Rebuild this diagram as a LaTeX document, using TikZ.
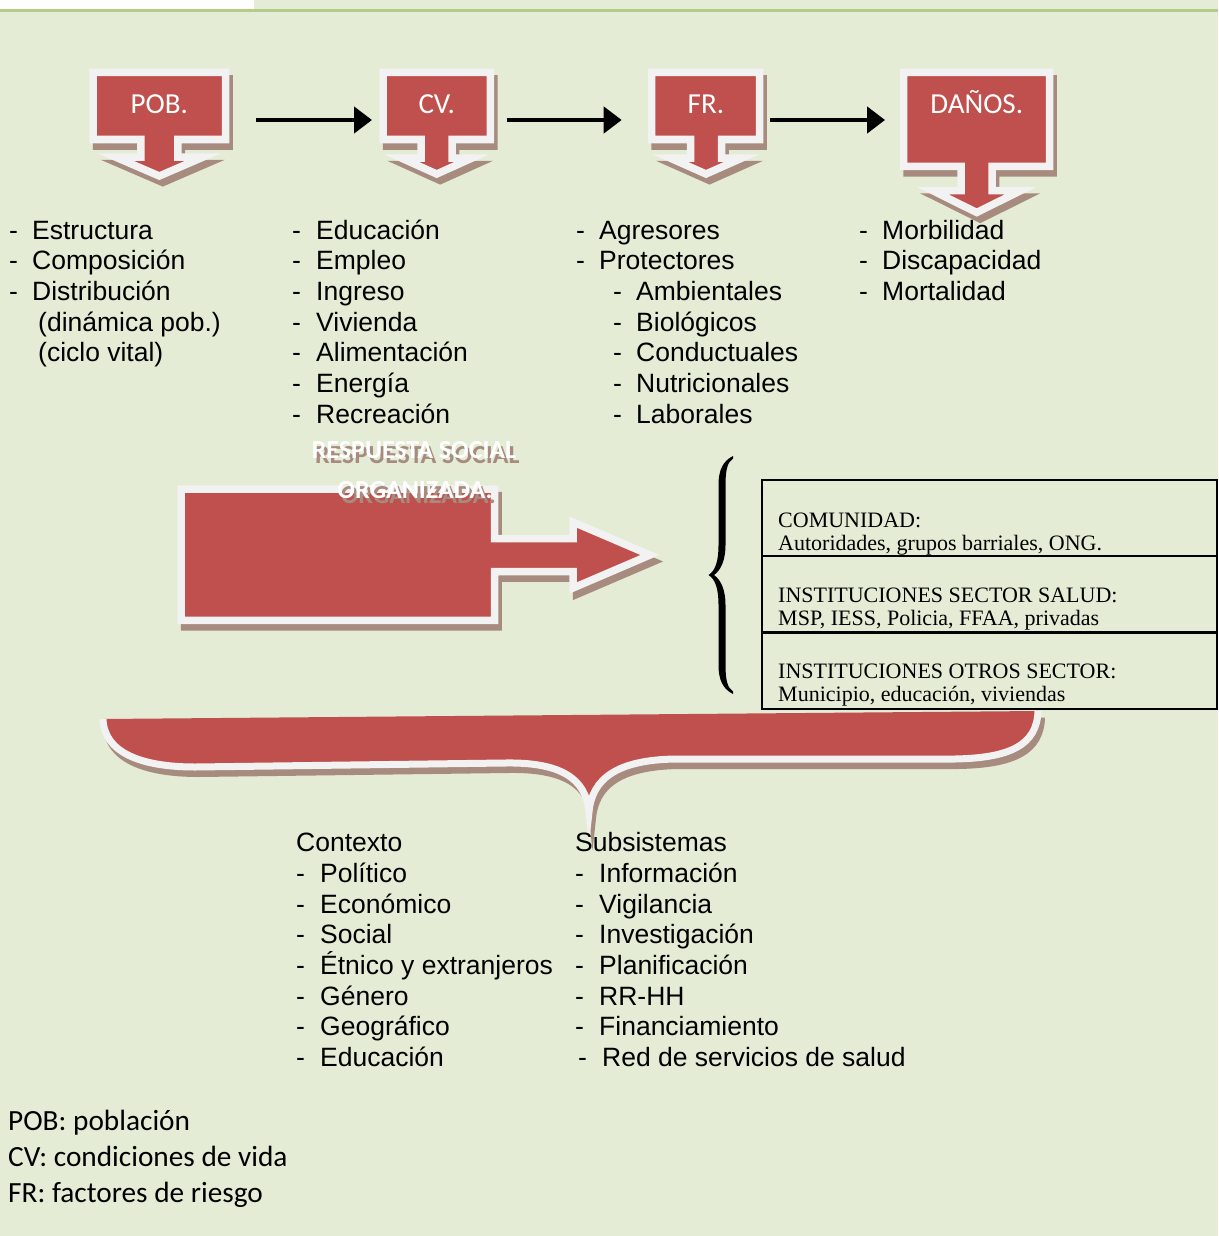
\documentclass[tikz,border=0pt]{standalone}
\usepackage{fontspec}
\setmainfont{Liberation Sans}
\newfontfamily\calibfont{Carlito}
\newfontfamily\seriffont{Liberation Serif}
\usetikzlibrary{arrows.meta,calc}

\definecolor{pagebg}{HTML}{E4ECD5}
\definecolor{rulegreen}{HTML}{B5CC88}
\definecolor{shapered}{HTML}{C0504D}
\definecolor{rimwhite}{HTML}{F2F2F2}
\definecolor{shadowbrown}{HTML}{A68B7E}

% outline of a down-arrow callout:
% left, right, top, bottom, centre x, stem half width, shoulder y, head half width, tip y
\newcommand\callpath[9]{(#1,#3) -- (#2,#3) -- (#2,#4) -- ({#5+#6},#4) -- ({#5+#6},#7) -- ({#5+#8},#7) -- (#5,#9) -- ({#5-#8},#7) -- ({#5-#6},#7) -- ({#5-#6},#4) -- (#1,#4) -- cycle}
\newcommand\callshape[9]{%
  \filldraw[shadowbrown, line width=7.5pt, shift={(3.5,6.5)}] \callpath{#1}{#2}{#3}{#4}{#5}{#6}{#7}{#8}{#9};
  \filldraw[fill=shapered, rim] \callpath{#1}{#2}{#3}{#4}{#5}{#6}{#7}{#8}{#9};
}
% white lettering with a brown drop shadow behind it
\newcommand\shadowed[1]{\rlap{\hspace{3.3pt}\raisebox{-5pt}{\color{shadowbrown}#1}}#1}

\begin{document}
\begin{tikzpicture}[x=1pt,y=-1pt,
  listtxt/.style={anchor=base west, inner sep=0pt, font=\fontsize{26.5}{30}\selectfont},
  celltxt/.style={anchor=base west, inner sep=0pt, font=\seriffont\fontsize{22}{23}\selectfont},
  legendtxt/.style={anchor=base west, inner sep=0pt, font=\calibfont\fontsize{29.3}{36}\selectfont},
  calltxt/.style={anchor=base, inner sep=0pt, text=white, font=\calibfont\fontsize{29}{34}\selectfont},
  banner/.style={anchor=base, inner sep=0pt, text=white, font=\calibfont\bfseries\fontsize{26}{30}\selectfont},
  conn/.style={line width=4.5pt, -{Triangle[length=18pt,width=26pt]}},
  cell/.style={draw=black, line width=2pt, minimum width=454.4pt, minimum height=76.3pt, inner sep=0pt},
  rim/.style={draw=rimwhite, line width=7.5pt},
  holder/.style={inner sep=0pt, outer sep=0pt},
]
% page
\fill[pagebg] (0,0) rectangle (1218,1236);
\useasboundingbox (0,0) rectangle (1218,1236);
\fill[white] (0,0) rectangle (254,9);
\fill[rulegreen] (0,9) rectangle (1218,12);

% callout shapes
\callshape{93}{225.5}{72.5}{139.5}{159.3}{18.5}{157}{44}{176}
\callshape{383}{490.3}{72.5}{139.5}{436.7}{15.5}{158}{35.5}{174}
\callshape{651.7}{759.7}{72.5}{139.5}{706}{15.5}{158}{36}{174}
\callshape{903.7}{1049.5}{72.5}{166.3}{976.7}{15.5}{190.5}{44.3}{212.5}

\node[holder, minimum width=140pt, minimum height=75pt] (pobbox) at (159,105.5) {};
\node[holder, minimum width=115pt, minimum height=75pt] (cvbox) at (436.5,105.5) {};
\node[holder, minimum width=116pt, minimum height=75pt] (frbox) at (705.3,105.5) {};
\node[holder, minimum width=153.3pt, minimum height=102pt] (danosbox) at (976.7,119) {};

\node[calltxt] (pob) at (159.3,113.3) {POB.};
\node[calltxt] (cv) at (436.7,113.3) {CV.};
\node[calltxt] (fr) at (706,113.3) {FR.};
\node[calltxt] (danos) at (976.7,113.3) {DAÑOS.};

% arrows between the stages
\coordinate (arrowrow) at (0,120);
\draw[conn, shorten <=27pt, shorten >=7pt] (pobbox.east |- arrowrow) -- (cvbox.west |- arrowrow);
\draw[conn, shorten <=12.7pt, shorten >=25.6pt] (cvbox.east |- arrowrow) -- (frbox.west |- arrowrow);
\draw[conn, shorten <=6.7pt, shorten >=15pt] (frbox.east |- arrowrow) -- (danosbox.west |- arrowrow);

% big block arrow
\def\bigarrow{(181,489) -- (494.5,489) -- (494.5,538.5) -- (573,538.5) -- (573,522) -- (650,555) -- (573,588) -- (573,571.5) -- (494.5,571.5) -- (494.5,620.3) -- (181,620.3) -- cycle}
\filldraw[shadowbrown, line width=7.5pt, shift={(3.5,6.5)}] \bigarrow;
\filldraw[fill=shapered, rim] \bigarrow;
\node[holder, minimum width=469pt, minimum height=139pt] (rso) at (415.5,555) {};

% banner text
\node[banner] (rsoA) at (414,458.3) {\shadowed{RESPUESTA SOCIAL}};
\node[banner] (rsoB) at (415,498.3) {\shadowed{ORGANIZADA.}};

% curly brace
\fill[black] (733,456) .. controls (723,461) and (718.5,470) .. (718.5,485) -- (718.5,545)
  .. controls (718.5,562) and (715,571) .. (708.5,575)
  .. controls (715,579) and (718.5,588) .. (718.5,605) -- (718.5,665)
  .. controls (718.5,680) and (723,689) .. (733,694)
  -- (733,691.5) .. controls (727.5,688) and (725.5,680) .. (725.5,665) -- (725.5,605)
  .. controls (725.5,590) and (721,580) .. (714,575)
  .. controls (721,570) and (725.5,560) .. (725.5,545) -- (725.5,485)
  .. controls (725.5,470) and (727.5,462) .. (733,458.5) -- cycle;

% actors table
\node[cell] (comunidad) at (989.5,518) {};
\node[cell] (salud) at (989.5,594.35) {};
\node[cell] (otros) at (989.5,670.5) {};
\node[celltxt] (comA) at (778,527.3) {COMUNIDAD:};
\node[celltxt] (comB) at (778,550.3) {Autoridades, grupos barriales, ONG.};
\node[celltxt] (salA) at (778,602.7) {INSTITUCIONES SECTOR SALUD:};
\node[celltxt] (salB) at (778,625.7) {MSP, IESS, Policia, FFAA, privadas};
\node[celltxt] (otrA) at (778,678.7) {INSTITUCIONES OTROS SECTOR:};
\node[celltxt] (otrB) at (778,701.7) {Municipio, educación, viviendas};

% wide brace-shaped band
\def\bandcurve{(103,719) .. controls (104,752) and (140,767) .. (195,767)
  -- (505,763) .. controls (560,762) and (586,778) .. (589,812)
  .. controls (592,778) and (618,760) .. (675,759)
  -- (955,759) .. controls (1010,758) and (1037,745) .. (1038,711)}
\begin{scope}[shift={(3.5,6.5)}]
  \fill[shadowbrown] \bandcurve -- cycle;
  \draw[shadowbrown, line width=7pt] \bandcurve;
\end{scope}
\fill[shapered] \bandcurve -- cycle;
\draw[rimwhite, line width=7pt] \bandcurve;

% lists under the stages
\foreach \t [count=\i] in {Estructura,Composición,Distribución}{
  \node[listtxt] (pobd\i) at (9,{239+30.67*(\i-1)}) {-};
  \node[listtxt] (pobi\i) at (32,{239+30.67*(\i-1)}) {\t};
}
\node[listtxt] (pobi4) at (38,331) {(dinámica pob.)};
\node[listtxt] (pobi5) at (38,361.7) {(ciclo vital)};

\foreach \t [count=\i] in {Educación,Empleo,Ingreso,Vivienda,Alimentación,Energía,Recreación}{
  \node[listtxt] (cvd\i) at (292,{239+30.67*(\i-1)}) {-};
  \node[listtxt] (cvi\i) at (316,{239+30.67*(\i-1)}) {\t};
}

\foreach \t [count=\i] in {Agresores,Protectores}{
  \node[listtxt] (frd\i) at (576,{239+30.67*(\i-1)}) {-};
  \node[listtxt] (fri\i) at (599,{239+30.67*(\i-1)}) {\t};
}
\foreach \t [count=\i] in {Ambientales,Biológicos,Conductuales,Nutricionales,Laborales}{
  \node[listtxt] (frsd\i) at (613,{239+30.67*(\i+1)}) {-};
  \node[listtxt] (frsi\i) at (636,{239+30.67*(\i+1)}) {\t};
}

\foreach \t [count=\i] in {Morbilidad,Discapacidad,Mortalidad}{
  \node[listtxt] (dand\i) at (859,{239+30.67*(\i-1)}) {-};
  \node[listtxt] (dani\i) at (882,{239+30.67*(\i-1)}) {\t};
}

% lists under the band
\node[listtxt] (contexto) at (296,851.7) {Contexto};
\foreach \t [count=\i] in {Político,Económico,Social,Étnico y extranjeros,Género,Geográfico,Educación}{
  \node[listtxt] (ctxd\i) at (296,{851.7+30.67*\i}) {-};
  \node[listtxt] (ctxi\i) at (320,{851.7+30.67*\i}) {\t};
}
\node[listtxt] (subsis) at (575,851.7) {Subsistemas};
\foreach \t [count=\i] in {Información,Vigilancia,Investigación,Planificación,RR-HH,Financiamiento}{
  \node[listtxt] (subd\i) at (575,{851.7+30.67*\i}) {-};
  \node[listtxt] (subi\i) at (599,{851.7+30.67*\i}) {\t};
}
\node[listtxt] (subd7) at (578,1066.4) {-};
\node[listtxt] (subi7) at (602,1066.4) {Red de servicios de salud};

% abbreviations
\node[legendtxt] (legA) at (8,1130.7) {POB: población};
\node[legendtxt] (legB) at (8,1166.7) {CV: condiciones de vida};
\node[legendtxt] (legC) at (8,1202.7) {FR: factores de riesgo};
\end{tikzpicture}
\end{document}
